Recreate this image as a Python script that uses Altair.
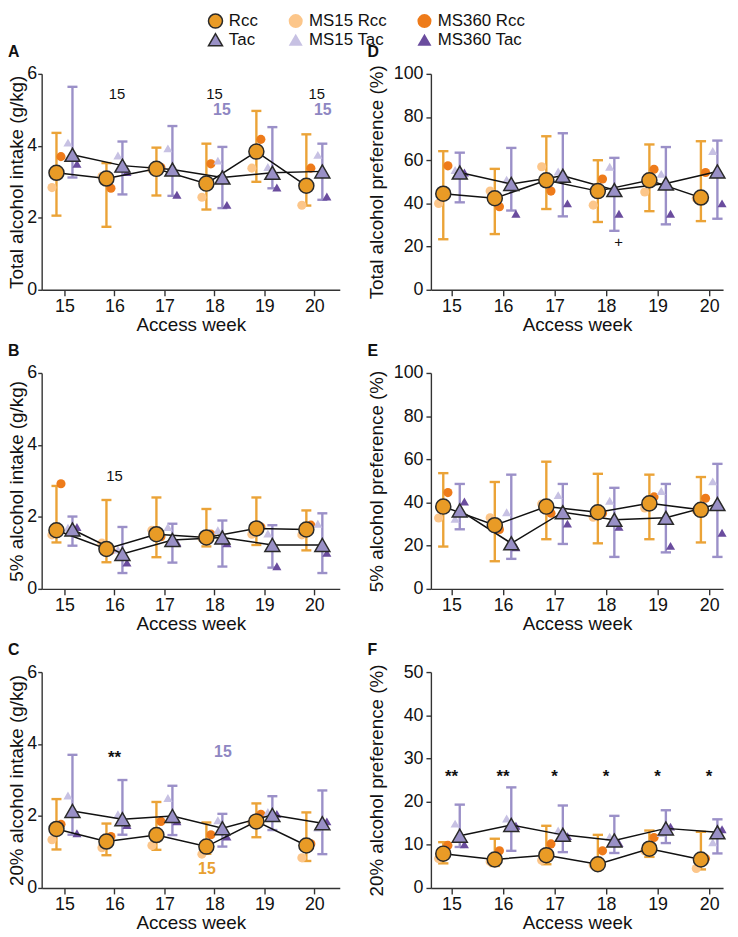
import altair as alt
import pandas as pd

WEEKS = [15, 16, 17, 18, 19, 20]

# ---- Panel A: Total alcohol intake (g/kg)
A_RCC = [3.25, 3.09, 3.36, 2.95, 3.84, 2.89]
A_RCC_LO = [2.06, 1.75, 2.62, 2.23, 3.00, 2.34]
A_RCC_HI = [4.36, 3.52, 3.95, 4.06, 4.97, 4.32]
A_TAC = [3.75, 3.45, 3.34, 3.12, 3.25, 3.29]
A_TAC_LO = [3.12, 2.65, 2.61, 2.27, 2.82, 2.50]
A_TAC_HI = [5.64, 4.12, 4.55, 3.97, 4.52, 4.06]
A_MS15_RCC = [2.84, 3.15, 3.34, 2.57, 3.38, 2.35]
A_MS360_RCC = [3.70, 2.82, 3.40, 3.50, 4.18, 3.38]
A_MS15_TAC = [4.09, 3.73, 3.93, 3.59, 3.41, 3.75]
A_MS360_TAC = [3.50, 3.27, 2.64, 2.36, 2.84, 2.59]
A_ANN_TEXT = ["15", "15", "15", "15", "15"]
A_ANN_X = [16.05, 18.0, 20.05, 18.15, 20.17]
A_ANN_Y = [5.43, 5.43, 5.43, 5.0, 5.0]
A_ANN_STYLE = ["n", "n", "n", "p", "p"]

# ---- Panel B: 5% alcohol intake (g/kg)
B_RCC = [1.63, 1.11, 1.52, 1.43, 1.68, 1.65]
B_RCC_LO = [1.29, 0.74, 0.88, 1.18, 1.22, 1.07]
B_RCC_HI = [2.86, 2.47, 2.54, 2.22, 2.54, 2.18]
B_TAC = [1.65, 0.97, 1.36, 1.43, 1.22, 1.22]
B_TAC_LO = [1.20, 0.44, 0.73, 0.62, 0.59, 0.44]
B_TAC_HI = [2.01, 1.72, 1.81, 1.90, 1.77, 2.10]
B_MS15_RCC = [1.50, 1.27, 1.63, 1.41, 1.52, 1.50]
B_MS360_RCC = [2.92, 1.07, 1.45, 1.52, 1.72, 1.77]
B_MS15_TAC = [1.70, 1.09, 1.72, 1.63, 1.54, 1.81]
B_MS360_TAC = [1.72, 0.73, 1.29, 1.27, 0.63, 1.00]
B_ANN_TEXT = ["15"]
B_ANN_X = [16.0]
B_ANN_Y = [3.13]
B_ANN_STYLE = ["n"]

# ---- Panel C: 20% alcohol intake (g/kg)
C_RCC = [1.64, 1.29, 1.47, 1.15, 1.85, 1.18]
C_RCC_LO = [1.07, 0.91, 1.06, 0.95, 1.41, 0.75]
C_RCC_HI = [2.47, 1.79, 2.39, 1.82, 2.35, 2.10]
C_TAC = [2.14, 1.91, 2.00, 1.66, 2.03, 1.80]
C_TAC_LO = [1.48, 1.48, 1.47, 1.15, 1.61, 0.94]
C_TAC_HI = [3.70, 3.00, 2.84, 2.06, 2.55, 2.71]
C_MS15_RCC = [1.34, 1.12, 1.18, 0.94, 1.82, 0.84]
C_MS360_RCC = [1.77, 1.43, 1.85, 1.48, 2.05, 1.23]
C_MS15_TAC = [2.57, 2.05, 2.50, 1.88, 2.11, 1.68]
C_MS360_TAC = [1.52, 1.75, 1.85, 1.43, 2.06, 1.85]
C_ANN_TEXT = ["**", "15", "15"]
C_ANN_X = [16.0, 18.17, 17.85]
C_ANN_Y = [3.62, 3.79, 0.52]
C_ANN_STYLE = ["s", "p", "o"]

# ---- Panel D: Total alcohol preference (%)
D_RCC = [44.5, 42.4, 50.7, 45.7, 50.7, 42.7]
D_RCC_LO = [23.4, 25.8, 37.4, 31.4, 36.4, 31.8]
D_RCC_HI = [64.2, 56.0, 71.1, 60.0, 67.3, 68.8]
D_TAC = [54.3, 49.0, 52.8, 46.2, 49.2, 54.8]
D_TAC_LO = [40.5, 36.7, 34.0, 27.3, 30.3, 32.9]
D_TAC_HI = [63.5, 65.7, 72.5, 61.1, 66.1, 69.1]
D_MS15_RCC = [40.0, 45.7, 57.0, 39.2, 45.3, 42.4]
D_MS360_RCC = [57.4, 38.5, 45.7, 51.3, 55.8, 54.3]
D_MS15_TAC = [55.5, 51.0, 54.8, 57.0, 53.7, 64.3]
D_MS360_TAC = [54.3, 35.2, 40.0, 35.2, 35.2, 40.0]
D_ANN_TEXT = ["+"]
D_ANN_X = [18.24]
D_ANN_Y = [22.3]
D_ANN_STYLE = ["n"]

# ---- Panel E: 5% alcohol preference (%)
E_RCC = [38.1, 29.5, 38.1, 35.5, 39.6, 36.6]
E_RCC_LO = [19.6, 12.8, 23.0, 21.1, 23.0, 21.5]
E_RCC_HI = [53.6, 49.5, 58.9, 53.3, 52.9, 51.8]
E_TAC = [36.3, 21.1, 35.5, 32.0, 32.9, 39.3]
E_TAC_LO = [27.6, 13.9, 20.8, 14.8, 16.9, 14.8]
E_TAC_HI = [48.6, 52.9, 48.6, 46.8, 48.6, 57.9]
E_MS15_RCC = [32.8, 32.9, 39.3, 33.2, 37.5, 36.3]
E_MS360_RCC = [44.6, 27.5, 35.0, 35.0, 42.6, 42.0]
E_MS15_TAC = [32.5, 35.5, 43.4, 40.8, 45.3, 49.8]
E_MS360_TAC = [40.5, 19.3, 30.2, 28.7, 19.9, 26.0]
E_ANN_TEXT = []
E_ANN_X = []
E_ANN_Y = []
E_ANN_STYLE = []

# ---- Panel F: 20% alcohol preference (%)
F_RCC = [7.95, 6.6, 7.6, 5.5, 9.1, 6.6]
F_RCC_LO = [5.7, 5.1, 5.5, 4.9, 7.2, 4.3]
F_RCC_HI = [10.6, 11.4, 14.4, 12.3, 13.3, 13.0]
F_TAC = [12.1, 14.6, 12.3, 11.0, 13.8, 12.9]
F_TAC_LO = [9.5, 8.6, 8.3, 8.1, 10.4, 8.0]
F_TAC_HI = [19.3, 23.3, 19.1, 16.7, 18.0, 15.9]
F_MS15_RCC = [6.8, 6.1, 6.4, 5.3, 8.6, 4.5]
F_MS360_RCC = [9.85, 8.6, 10.2, 8.6, 11.7, 6.8]
F_MS15_TAC = [14.9, 16.1, 13.3, 11.9, 12.7, 10.6]
F_MS360_TAC = [10.1, 14.4, 12.0, 10.4, 14.2, 13.6]
F_ANN_TEXT = ["**", "**", "*", "*", "*", "*"]
F_ANN_X = [15, 16, 17, 18, 19, 20]
F_ANN_Y = [25.6, 25.6, 25.6, 25.6, 25.6, 25.6]
F_ANN_STYLE = ["s", "s", "s", "s", "s", "s"]

# ---- Legend entries (row-major, 3 columns)
LEG_LABELS = ["Rcc", "MS15 Rcc", "MS360 Rcc", "Tac", "MS15 Tac", "MS360 Tac"]

# ---- Styles
FONT = "Liberation Sans"
RCC_FILL = "#E99B26"
RCC_BAR = "#EBA337"
TAC_FILL = "#9990C6"
TAC_BAR = "#9B90C8"
MS15_RCC_C = "#FCC68A"
MS360_RCC_C = "#EE7B1A"
MS15_TAC_C = "#C7C1E3"
MS360_TAC_C = "#6A4C9E"
DARK = "#2A2A2A"
NONE = "rgba(0,0,0,0)"
AXC = "#333333"
H = 218
CAP = 0.1

LEG_SHAPES = ["circle", "circle", "circle", "triangle-up", "triangle-up", "triangle-up"]
LEG_FILLS = [RCC_FILL, MS15_RCC_C, MS360_RCC_C, TAC_FILL, MS15_TAC_C, MS360_TAC_C]
LEG_STROKES = [DARK, NONE, NONE, DARK, NONE, NONE]

LEGEND = alt.Legend(orient="none", legendX=167, legendY=-62, columns=3,
                    title=None, columnPadding=27, rowPadding=-4,
                    symbolSize=200, symbolStrokeWidth=1.5, labelFontSize=17,
                    labelOffset=5, labelFont=FONT, labelColor="#111111",
                    padding=0, direction="horizontal")

ANN_STYLES = {
    "n": dict(color="#111111", fontSize=15, fontWeight="normal"),
    "p": dict(color="#8E86C2", fontSize=16, fontWeight="bold"),
    "o": dict(color="#E8A030", fontSize=16, fontWeight="bold"),
    "s": dict(color="#111111", fontSize=17, fontWeight="bold"),
}


def grp_enc():
    return dict(
        fill=alt.Fill("grp:N", scale=alt.Scale(domain=LEG_LABELS, range=LEG_FILLS), legend=LEGEND),
        shape=alt.Shape("grp:N", scale=alt.Scale(domain=LEG_LABELS, range=LEG_SHAPES), legend=LEGEND),
        stroke=alt.Stroke("grp:N", scale=alt.Scale(domain=LEG_LABELS, range=LEG_STROKES), legend=LEGEND),
    )


def make_panel(letter, ytitle, ymax, ystep, series, ann, xdom, width, right):
    rcc, rlo, rhi, tac, tlo, thi, m15r, m360r, m15t, m360t = series
    df = pd.DataFrame(dict(week=WEEKS, rcc=rcc, rlo=rlo, rhi=rhi, tac=tac,
                           tlo=tlo, thi=thi, m15r=m15r, m360r=m360r,
                           m15t=m15t, m360t=m360t))
    xs = alt.Scale(domain=xdom, nice=False, zero=False)
    ys = alt.Scale(domain=[0, ymax], nice=False, zero=True)
    xax = alt.Axis(title="Access week", values=WEEKS, format="d",
                   labelFlush=False, tickSize=6, labelPadding=2,
                   titlePadding=0, labelOverlap=False)
    if right:
        yax = alt.Axis(title=ytitle, values=list(range(0, ymax + 1, ystep)),
                       minExtent=38, maxExtent=38, tickSize=5, labelPadding=3,
                       titlePadding=7, labelFlush=False, labelOverlap=False)
    else:
        yax = alt.Axis(title=ytitle, values=list(range(0, ymax + 1, ystep)),
                       minExtent=15, maxExtent=15, tickSize=4, labelPadding=1,
                       titlePadding=0, labelFlush=False, labelOverlap=False)

    def X(f="x"):
        return alt.X(f"{f}:Q", scale=xs, axis=xax)

    def Y(f):
        return alt.Y(f"{f}:Q", scale=ys, axis=yax)

    base = alt.Chart(df)

    def sh(off, grp=None):
        kw = dict(
            x=f"datum.week + ({off})",
            xa=f"datum.week + ({off}) - {CAP}",
            xb=f"datum.week + ({off}) + {CAP}",
        )
        if grp is not None:
            kw["grp"] = f"'{grp}'"
        return base.transform_calculate(**kw)

    layers = []
    for mean, lo, hi, off, col in [("rcc", "rlo", "rhi", -0.16, RCC_BAR),
                                   ("tac", "tlo", "thi", 0.16, TAC_BAR)]:
        s = sh(off)
        layers.append(s.mark_rule(color=col, strokeWidth=2.4).encode(
            x=X(), y=Y(lo), y2=alt.Y2(f"{hi}:Q")))
        for f in (lo, hi):
            layers.append(s.mark_rule(color=col, strokeWidth=2.4).encode(
                x=X("xa"), x2=alt.X2("xb:Q"), y=Y(f)))

    for f, off, grp in [("m15r", -0.25, "MS15 Rcc"), ("m360r", -0.07, "MS360 Rcc"),
                        ("m15t", 0.07, "MS15 Tac"), ("m360t", 0.25, "MS360 Tac")]:
        layers.append(sh(off, grp).mark_point(filled=True, size=85, opacity=1,
                                              strokeWidth=1.5).encode(
            x=X(), y=Y(f), **grp_enc()))

    for f, off in [("rcc", -0.16), ("tac", 0.16)]:
        layers.append(sh(off).mark_line(color="#111111", strokeWidth=1.5).encode(
            x=X(), y=Y(f)))

    for f, off, grp in [("rcc", -0.16, "Rcc"), ("tac", 0.16, "Tac")]:
        layers.append(sh(off, grp).mark_point(filled=True, size=230, opacity=1,
                                              strokeWidth=1.5).encode(
            x=X(), y=Y(f), **grp_enc()))

    texts, axs, ays, sts = ann
    if texts:
        adf = pd.DataFrame(dict(t=texts, x=axs, y=ays, st=sts))
        for st in sorted(set(sts)):
            layers.append(alt.Chart(adf).transform_filter(
                alt.datum.st == st).mark_text(
                baseline="middle", align="center", font=FONT,
                **ANN_STYLES[st]).encode(x=X(), y=Y("y"), text="t:N"))

    return alt.layer(*layers).properties(
        width=width, height=H,
        title=alt.TitleParams(letter, anchor="start", frame="bounds",
                              fontSize=16, fontWeight="bold", offset=5,
                              font=FONT, color="#111111"))


LEFT_DOM = [14.544, 20.509]
RIGHT_DOM = [14.6, 20.27]
LW, RW = 301, 295

pA = make_panel("A", "Total alcohol intake (g/kg)", 6, 2,
                (A_RCC, A_RCC_LO, A_RCC_HI, A_TAC, A_TAC_LO, A_TAC_HI,
                 A_MS15_RCC, A_MS360_RCC, A_MS15_TAC, A_MS360_TAC),
                (A_ANN_TEXT, A_ANN_X, A_ANN_Y, A_ANN_STYLE), LEFT_DOM, LW, False)
pB = make_panel("B", "5% alcohol intake (g/kg)", 6, 2,
                (B_RCC, B_RCC_LO, B_RCC_HI, B_TAC, B_TAC_LO, B_TAC_HI,
                 B_MS15_RCC, B_MS360_RCC, B_MS15_TAC, B_MS360_TAC),
                (B_ANN_TEXT, B_ANN_X, B_ANN_Y, B_ANN_STYLE), LEFT_DOM, LW, False)
pC = make_panel("C", "20% alcohol intake (g/kg)", 6, 2,
                (C_RCC, C_RCC_LO, C_RCC_HI, C_TAC, C_TAC_LO, C_TAC_HI,
                 C_MS15_RCC, C_MS360_RCC, C_MS15_TAC, C_MS360_TAC),
                (C_ANN_TEXT, C_ANN_X, C_ANN_Y, C_ANN_STYLE), LEFT_DOM, LW, False)
pD = make_panel("D", "Total alcohol preference (%)", 100, 20,
                (D_RCC, D_RCC_LO, D_RCC_HI, D_TAC, D_TAC_LO, D_TAC_HI,
                 D_MS15_RCC, D_MS360_RCC, D_MS15_TAC, D_MS360_TAC),
                (D_ANN_TEXT, D_ANN_X, D_ANN_Y, D_ANN_STYLE), RIGHT_DOM, RW, True)
pE = make_panel("E", "5% alcohol preference (%)", 100, 20,
                (E_RCC, E_RCC_LO, E_RCC_HI, E_TAC, E_TAC_LO, E_TAC_HI,
                 E_MS15_RCC, E_MS360_RCC, E_MS15_TAC, E_MS360_TAC),
                (E_ANN_TEXT, E_ANN_X, E_ANN_Y, E_ANN_STYLE), RIGHT_DOM, RW, True)
pF = make_panel("F", "20% alcohol preference (%)", 50, 10,
                (F_RCC, F_RCC_LO, F_RCC_HI, F_TAC, F_TAC_LO, F_TAC_HI,
                 F_MS15_RCC, F_MS360_RCC, F_MS15_TAC, F_MS360_TAC),
                (F_ANN_TEXT, F_ANN_X, F_ANN_Y, F_ANN_STYLE), RIGHT_DOM, RW, True)

chart = alt.concat(pA, pD, pB, pE, pC, pF, columns=2,
                   spacing={"row": 84, "column": 92}, bounds="flush").properties(
    padding=0
).configure(font=FONT).configure_view(stroke=None).configure_axis(
    grid=False, domainColor=AXC, tickColor=AXC, domainWidth=1.4, tickWidth=1.4,
    labelFontSize=18, titleFontSize=19, titleFontWeight="normal",
    labelColor="#111111", titleColor="#111111", labelFont=FONT, titleFont=FONT,
)

chart.save("out.html", embed_options={"renderer": "svg", "actions": False})
